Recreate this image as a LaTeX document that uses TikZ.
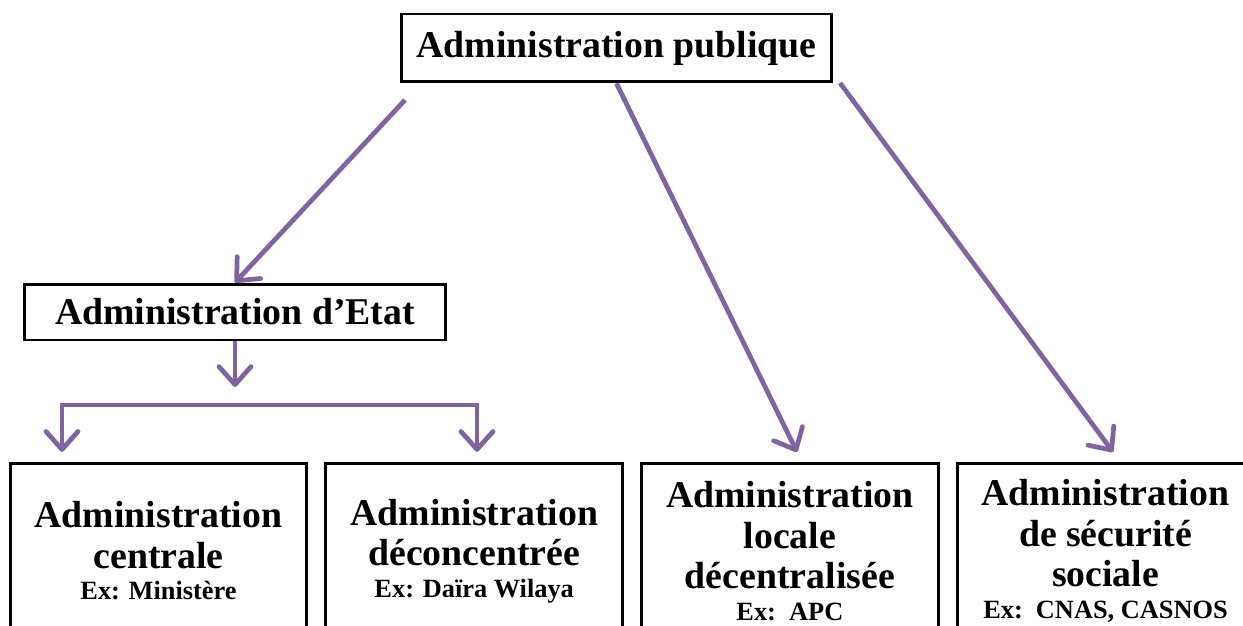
\documentclass[tikz,border=0pt]{standalone}
\usepackage{fontspec}
\setmainfont{Liberation Serif}
\usetikzlibrary{positioning,arrows.meta}
\definecolor{admpurple}{HTML}{8064A2}
\newcommand\boxfont{\fontsize{21.5}{23}\selectfont\bfseries}
\newcommand\exfont{\fontsize{15}{18}\selectfont\bfseries}
\tikzset{
  box/.style={rectangle,draw,line width=1.7pt,align=center,font=\boxfont,inner sep=4pt},
  topbox/.style={box,minimum width=8.62cm,minimum height=1.36cm},
  kind/.style={box,minimum width=5.94cm,minimum height=3.52cm},
  link/.style={draw=admpurple,line width=2.7pt},
  arr/.style={link,-{Straight Barb[length=3.6mm,width=6.4mm,round]}},
  arrs/.style={link,{Straight Barb[length=3.6mm,width=6.4mm,round]}-{Straight Barb[length=3.6mm,width=6.4mm,round]}}
}
\begin{document}
\begin{tikzpicture}[x=0.02cm,y=-0.02cm,node distance=0.315cm]
\useasboundingbox (0,0) rectangle (1243,625);
\clip (0,0) rectangle (1243,625);
\node[topbox] (pub) at (616.5,48) {Administration publique};
\node[box,minimum width=8.44cm,minimum height=1.12cm] (etat) at (235,312) {Administration d’Etat};
\node[kind] (centrale) at (158.5,551) {Administration\\centrale\\[-5pt]{\exfont Ex: Ministère}};
\node[kind,right=of centrale] (deconc) {Administration\\déconcentrée\\[-5pt]{\exfont Ex: Daïra Wilaya}};
\node[kind,right=of deconc] (locale) {Administration\\locale\\décentralisée\\[-5pt]{\exfont Ex:\ \ APC}};
\node[kind,right=of locale] (secu) {Administration\\de sécurité\\sociale\\[-5pt]{\exfont Ex:\ \ CNAS, CASNOS}};
% arrows
\coordinate (a1) at (405,100);
\coordinate (fork) at (235,387);
\coordinate (bl) at (62,405);
\coordinate (br) at (477,405);
\coordinate (a2) at (797,452);
\coordinate (a3) at (840,83);
\coordinate (a4) at (1113,452);
\draw[arr] (a1) -- (etat.north);
\draw[arr] (etat.south) -- (fork);
\draw[arrs,shorten <=5.5pt,shorten >=5.5pt] (bl |- centrale.north) -- (bl) -- (br) -- (br |- deconc.north);
\draw[arr] (pub.south) -- (a2);
\draw[arr] (a3) -- (a4);
\end{tikzpicture}
\end{document}
